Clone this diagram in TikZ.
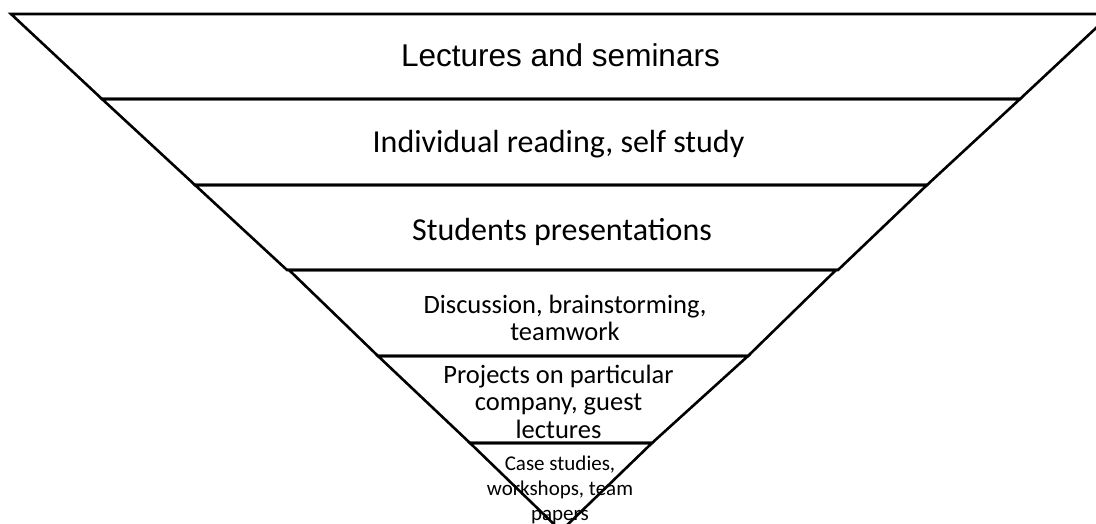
\documentclass[tikz,border=0pt]{standalone}
\usepackage{fontspec}
\setmainfont{Carlito}
\newfontfamily\arialf{Liberation Sans}
\begin{document}
\begin{tikzpicture}[x=1pt,y=-1pt,
  band/.style={draw=black,line width=2.6pt,line join=miter},
  lbl/.style={anchor=base,align=center,inner sep=0pt}]
\useasboundingbox (0,0) rectangle (1096,523);
\clip (0,0) rectangle (1096,523);
% bands
\draw[band] (11,14) -- (1111,14) -- (1020,99) -- (102,99) -- cycle;
\draw[band] (102,99) -- (1020,99) -- (927,185) -- (195,185) -- cycle;
\draw[band] (195,185) -- (927,185) -- (838,270) -- (287,270) -- cycle;
\draw[band] (289,270) -- (836,270) -- (748,356) -- (378,356) -- cycle;
\draw[band] (378,356) -- (748,356) -- (652,443) -- (470,443) -- cycle;
\draw[band] (470,443) -- (652,443) -- (561,531) -- cycle;
% labels (multi-line nodes: base anchor = last line's baseline)
\node[lbl,font=\arialf\fontsize{31.5}{38}\selectfont] (l1) at (560.5,66) {Lectures and seminars};
\node[lbl,font=\fontsize{32}{38}\selectfont] (l2) at (558.5,152) {Individual reading, self study};
\node[lbl,font=\fontsize{32}{38}\selectfont] (l3) at (562,240) {Students presentations};
\node[lbl,font=\fontsize{26.5}{27}\selectfont] (l4) at (565,340) {Discussion, brainstorming,\\teamwork};
\node[lbl,font=\fontsize{26.5}{27.5}\selectfont] (l5) at (558.5,438) {Projects on particular\\company, guest\\lectures};
\node[lbl,font=\fontsize{21}{25}\selectfont] (l6) at (560,520) {Case studies,\\workshops, team\\papers};
\end{tikzpicture}
\end{document}
